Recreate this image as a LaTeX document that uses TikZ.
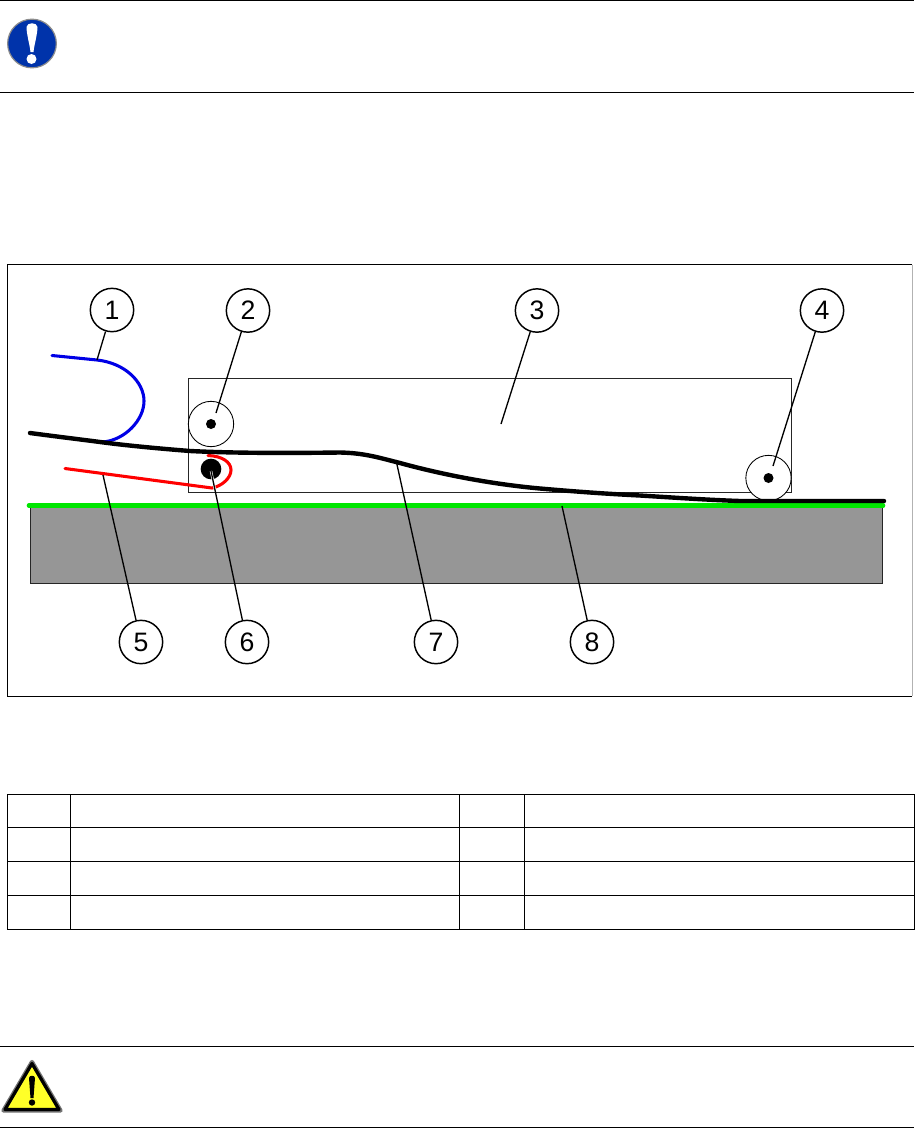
\documentclass[tikz,border=0pt]{standalone}
\usepackage{fontspec}
\setmainfont{Liberation Sans}
\usetikzlibrary{calc}
\definecolor{iconblue}{RGB}{0,51,170}
\definecolor{slab}{RGB}{150,150,150}
\definecolor{signyellow}{RGB}{255,255,40}
\definecolor{filmgreen}{RGB}{0,230,0}
\definecolor{stripblue}{RGB}{0,0,230}
\tikzset{
  callout/.style={circle,draw=black,fill=white,line width=1.1pt,minimum size=32.5pt,inner sep=0pt,font=\fontsize{20}{22}\selectfont},
  leader/.style={draw=black,line width=1pt},
  thinbox/.style={draw=black!85,line width=0.6pt},
  rule/.style={draw=black,line width=0.75pt},
  roller/.style={circle,draw=black,fill=white,line width=0.65pt,minimum size=34pt,inner sep=0pt},
  axle/.style={circle,fill=black,inner sep=0pt,minimum size=7.5pt},
  cell/.style={draw=black,line width=0.7pt}
}
\begin{document}
\begin{tikzpicture}[x=0.75pt,y=-0.75pt]
\useasboundingbox (0,0) rectangle (914,1128);
\fill[white] (0,0) rectangle (914,1128);
% top rules and icon
\draw[rule] (0,0.5) -- (914,0.5);
\draw[rule] (0,92.5) -- (914,92.5);
\node[circle,fill=iconblue,draw=black!45,line width=0.9pt,minimum size=36.5pt,inner sep=0pt] (info) at (32,43.5) {};
\fill[white] (26.5,27) .. controls (27,22) and (37,22) .. (37.5,27) .. controls (37.5,34) and (34,46) .. (33.5,52) -- (30.5,52) .. controls (30,46) and (26.5,34) .. (26.5,27) -- cycle;
\fill[white] (31.5,59) circle (5);
% frame
\draw[draw=black,line width=0.75pt] (912,264.5) -- (7,264.5) -- (7,696) -- (912,696);
\draw[draw=black!30,line width=0.6pt] (912,264.5) -- (912,696);
% slab
\fill[slab] (30,506) rectangle (882,583);
\draw[thinbox] (30,506) rectangle (882,583);
% housing
\draw[thinbox] (188.5,378.5) rectangle (791,492.5);
% rollers
\node[roller] (r2) at (211,424) {};
\node[axle] (a2) at (211,424) {};
\node[roller] (r4) at (768.5,478) {};
\node[axle] (a4) at (768.5,478) {};
% green line
\draw[filmgreen,line width=3.5pt,line cap=round] (29,505.5) -- (883,505.5);
% blue strip
\draw[stripblue,line width=2.3pt,line cap=round] (52,355.5) -- (97,360) .. controls (125,363) and (144,382) .. (144,401) .. controls (144,420) and (125,440) .. (103,442);
% red strip
\draw[red,line width=2.3pt,line cap=round] (65,468.5) -- (212,488) .. controls (222,486) and (231,478) .. (231,470) .. controls (231,462) and (222,456) .. (208,455.5);
\node[circle,fill=black,inner sep=0pt,minimum size=15.5pt] (pin) at (211,469) {};
% black film
\draw[line width=3.3pt,line cap=round,black] (30,433) .. controls (60,437) and (85,440) .. (100,442) .. controls (130,446) and (165,449) .. (190,451) .. controls (240,453.5) and (300,453) .. (340,452.5) .. controls (365,453) and (380,458) .. (400,463) .. controls (440,474) and (490,484) .. (540,488.5) .. controls (580,492) and (610,494) .. (640,495.5) .. controls (680,498) and (710,500) .. (740,501) -- (884,501);
% anchor coordinates
\coordinate (t1) at (97,360);
\coordinate (t2) at (216,413);
\coordinate (t3) at (501,424);
\coordinate (t4) at (773,466);
\coordinate (t5) at (103,475);
\coordinate (t6) at (211,471);
\coordinate (t7) at (396,460);
\coordinate (t8) at (562,506);
% callouts
\node[callout] (c1) at (112,310) {1};
\node[callout] (c2) at (248,310.5) {2};
\node[callout] (c3) at (537,310.5) {3};
\node[callout] (c4) at (822,310.5) {4};
\node[callout] (c5) at (141,642) {5};
\node[callout] (c6) at (247,642) {6};
\node[callout] (c7) at (436,642) {7};
\node[callout] (c8) at (592,642) {8};
\draw[leader] (c1) -- (t1);
\draw[leader] (c2) -- (t2);
\draw[leader] (c3) -- (t3);
\draw[leader] (c4) -- (t4);
\draw[leader] (c5) -- (t5);
\draw[draw=white,line width=1.8pt] (t6) -- ($(t6)!0.12!(c6)$);
\draw[leader] (c6) -- (t6);
\draw[leader] (c7) -- (t7);
\draw[leader] (c8) -- (t8);
% table
\draw[cell] (7,794) rectangle (914,929.5);
\draw[cell] (7,827) -- (914,827);
\draw[cell] (7,861) -- (914,861);
\draw[cell] (7,895) -- (914,895);
\draw[cell] (70.5,794) -- (70.5,929.5);
\draw[cell] (459.5,794) -- (459.5,929.5);
\draw[cell] (524.5,794) -- (524.5,929.5);
% bottom rules and sign
\draw[rule] (0,1046.5) -- (914,1046.5);
\draw[rule] (0,1127.5) -- (914,1127.5);
\draw[draw=black!55,fill=signyellow,line width=3.2pt,line join=round] (32,1062) -- (3.5,1110.5) -- (60.5,1110.5) -- cycle;
\draw[draw=black,line width=2.4pt,line join=round] (32,1063.5) -- (5,1109.5) -- (59,1109.5) -- cycle;
\fill[black] (29,1078) .. controls (29,1075) and (35,1075) .. (35,1078) -- (33.5,1098) -- (30.5,1098) -- cycle;
\fill[black] (32,1102.5) circle (3.2);
\end{tikzpicture}
\end{document}
